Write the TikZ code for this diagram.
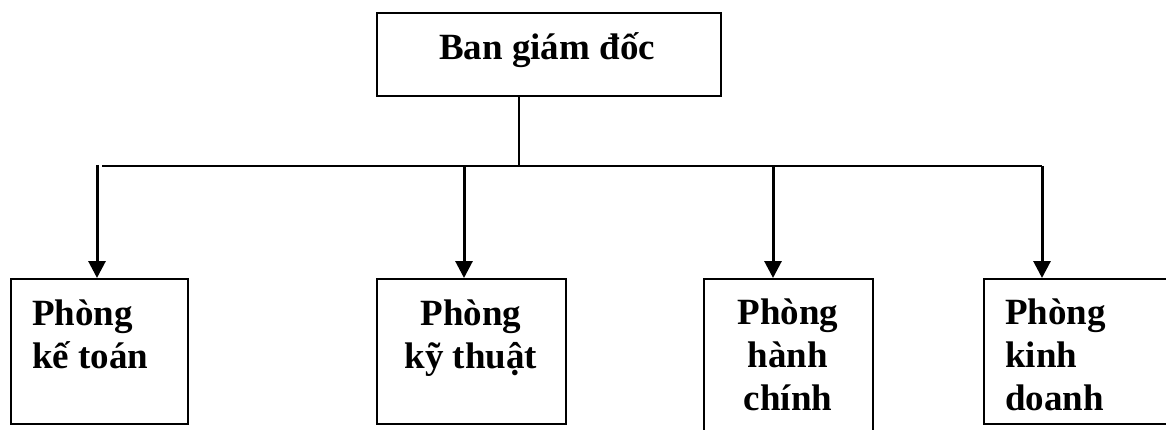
\documentclass[tikz,border=0pt]{standalone}
\usepackage{fontspec}
\setmainfont{Liberation Serif}
\usetikzlibrary{arrows.meta,calc}
\begin{document}
\begin{tikzpicture}[x=1pt,y=-1pt,
  box/.style={draw,line width=2pt,inner sep=0pt,anchor=north west},
  lbl/.style={inner sep=0pt,font=\bfseries\fontsize{37}{43}\selectfont},
  thinline/.style={line width=2pt},
  downarrow/.style={line width=3pt,-{Triangle[width=17pt,length=17pt]}}]
\useasboundingbox (0,0) rectangle (1166,430);

% top box
\node[box,minimum width=344pt,minimum height=83pt] (bgd) at (376,12) {};
\node[lbl,anchor=base] (bgdt) at (547,60) {Ban giám đốc};

% department boxes
\node[box,minimum width=177pt,minimum height=145pt] (b1) at (10,278) {};
\node[box,minimum width=189pt,minimum height=145pt] (b2) at (376,278) {};
\node[box,minimum width=169pt,minimum height=162pt] (b3) at (703,278) {};
\node[box,minimum width=197pt,minimum height=145pt] (b4) at (983,278) {};

% department labels (anchored at the baseline of the last line)
\node[lbl,anchor=base west,align=left] (b1t) at (32,368) {Phòng\\kế toán};
\node[lbl,anchor=base,align=center] (b2t) at (471,368) {Phòng\\kỹ thuật};
\node[lbl,anchor=base,align=center] (b3t) at (788,410) {Phòng\\hành\\chính};
\node[lbl,anchor=base west,align=left] (b4t) at (1005,410) {Phòng\\kinh\\doanh};

% connector bus
\coordinate (j) at (519,166);
\coordinate (h0) at (102,166);
\coordinate (h1) at (1042,166);
\draw[thinline] (bgd.south -| j) -- (j);
\draw[thinline] (h0) -- (h1);

% arrows down to departments
\coordinate (a1) at (97,165);
\coordinate (a2) at (464,166);
\coordinate (a3) at (773,166);
\draw[downarrow] (a1) -- (a1 |- b1.north);
\draw[downarrow] (a2) -- (a2 |- b2.north);
\draw[downarrow] (a3) -- (a3 |- b3.north);
\draw[downarrow] (h1) -- (h1 |- b4.north);
\end{tikzpicture}
\end{document}
